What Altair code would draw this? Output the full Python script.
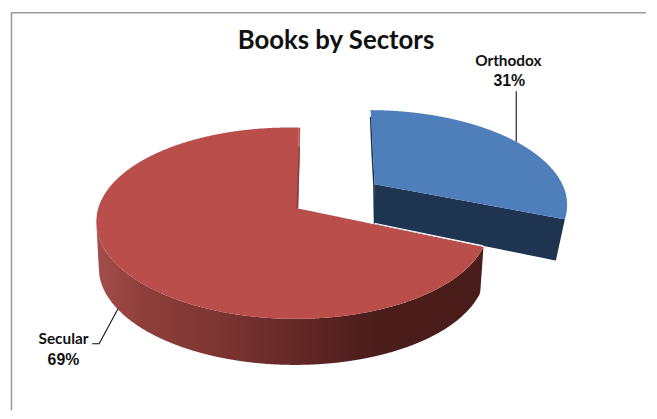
import numpy as np
import pandas as pd
import altair as alt

# --- chart values
sectors = ["Orthodox", "Secular"]
shares = [31, 69]
title_text = "Books by Sectors"

# --- colours
RED_TOP = "#BA4E4B"
BLUE_TOP = "#4E7FBB"
BLUE_WALL = "#1E3450"
RED_EDGE = "#8C3D3A"

# --- projection of the 3D pie: x0, y0, a, b, k, m, s, c
RED_FACE = dict(x0=298, y0=207.5, a=195.6, b=94.2, k=0.154, m=0.027, s=2.3, c=3.0)
RED_BASE = dict(x0=297.5, y0=254, a=192.7, b=94.2, k=0.154, m=0.027, s=2.3, c=3.0)
BLUE_FACE = dict(x0=375, y0=183, a=191.0, b=89.8, k=0.2, m=0.008, s=-4.8, c=0.0)
BLUE_BASE_APEX = (375, 223)
BLUE_BASE_CORNER = (558, 260)


def project(t_deg, x0, y0, a, b, k, m, s, c):
    t = np.radians(t_deg)
    X, Y = np.sin(t), np.cos(t)
    w = 1 + k * Y + m * X
    return x0 + (a * X + s * Y) / w, y0 - (b * Y - c * X) / w


split = 360 * shares[0] / sum(shares)
XS = alt.Scale(domain=[8, 649], nice=False, zero=False)
YS = alt.Scale(domain=[411, 8], nice=False, zero=False)


def band(xs, up, low):
    return pd.DataFrame({"x": xs, "y": up, "y2": low})


def area(df, color):
    return alt.Chart(df).mark_area(color=color, interpolate="linear", clip=True).encode(
        x=alt.X("x:Q", scale=XS, axis=None),
        y=alt.Y("y:Q", scale=YS, axis=None),
        y2="y2:Q",
    )


def line(xs, ys, color, width):
    df = pd.DataFrame({"x": xs, "y": ys, "o": range(len(xs))})
    return alt.Chart(df).mark_line(color=color, strokeWidth=width, interpolate="linear").encode(
        x=alt.X("x:Q", scale=XS, axis=None),
        y=alt.Y("y:Q", scale=YS, axis=None),
        order="o:O",
    )


# red face
tt = np.linspace(split, 360, 1200)
rx, ry = project(tt, **RED_FACE)
il = int(np.argmin(rx))
low_x, low_y = rx[:il + 1][::-1], ry[:il + 1][::-1]   # left -> corner, along the front
up_x, up_y = rx[il:], ry[il:]                          # left -> top, along the back
cx, cy = rx[0], ry[0]
ax_, ay_ = RED_FACE["x0"], RED_FACE["y0"]
gx = np.concatenate([np.linspace(rx[il], ax_, 300), np.linspace(ax_ + 0.01, cx, 300)])
gup = np.where(gx <= ax_, np.interp(gx, up_x, up_y), np.interp(gx, [ax_, cx], [ay_, cy]))
red_top = band(gx, gup, np.interp(gx, low_x, low_y))
sx = np.linspace(ax_, up_x[-1], 8)
red_sliver = band(sx, np.interp(sx, up_x, up_y), np.interp(sx, [ax_, up_x[-1]], [ay_, up_y[-1]]))

# red wall
bx, by = project(np.linspace(split, 275, 800), **RED_BASE)
ib = int(np.argmin(bx))
wall_x = np.concatenate([[rx[il]], bx[:ib + 1][::-1], [cx]])
wall_y = np.concatenate([[ry[il]], by[:ib + 1][::-1], [cy]])
gw = np.linspace(rx[il], cx, 500)
red_wall = band(gw, np.interp(gw, low_x, low_y), np.interp(gw, wall_x, wall_y))
wall_gradient = alt.LinearGradient(
    gradient="linear",
    stops=[
        alt.GradientStop(color="#A44E4A", offset=0.0),
        alt.GradientStop(color="#8F3F3B", offset=0.12),
        alt.GradientStop(color="#7C3532", offset=0.32),
        alt.GradientStop(color="#5E2524", offset=0.56),
        alt.GradientStop(color="#4A1D1B", offset=0.72),
        alt.GradientStop(color="#4A1D1B", offset=1.0),
    ],
    x1=0, x2=1, y1=0, y2=0,
)

# blue face
tb = np.linspace(0, split, 800)
ux, uy = project(tb, **BLUE_FACE)
ir = int(np.argmax(ux))
bax, bay = BLUE_FACE["x0"], BLUE_FACE["y0"]
bcx, bcy = ux[-1], uy[-1]
lower_x = np.concatenate([[ux[0], bax], ux[ir:][::-1]])
lower_y = np.concatenate([[uy[0], bay], uy[ir:][::-1]])
gb = np.linspace(ux[0], ux[ir], 500)
blue_top = band(gb, np.interp(gb, ux[:ir + 1], uy[:ir + 1]), np.interp(gb, lower_x, lower_y))

# blue wall
gbw = np.linspace(bax, bcx, 300)
bw_low = np.interp(gbw, [BLUE_BASE_APEX[0], BLUE_BASE_CORNER[0], bcx],
                   [BLUE_BASE_APEX[1], BLUE_BASE_CORNER[1], bcy])
blue_wall = band(gbw, np.interp(gbw, [bax, bcx], [bay, bcy]), bw_low)

# labels
labels = pd.DataFrame({
    "x": [510, 511, 61, 61],
    "y": [58.5, 79, 339, 360],
    "text": [sectors[0], f"{shares[0]}%", sectors[1], f"{shares[1]}%"],
    "font": ["Lato", "Liberation Sans", "Lato", "Liberation Sans"],
})


def label_layer(df, font, size):
    return alt.Chart(df).mark_text(
        font=font, fontSize=size, fontWeight="bold", color="#111111", align="center", baseline="middle"
    ).encode(
        x=alt.X("x:Q", scale=XS, axis=None),
        y=alt.Y("y:Q", scale=YS, axis=None),
        text="text:N",
    )


title_df = pd.DataFrame({"x": [336], "y": [38], "text": [title_text]})

chart = alt.layer(
    line([8.5, 8.5], [10, 411], "#9A9A9A", 1.5),
    line([8, 649], [10, 10], "#9A9A9A", 1.5),
    line([518, 518], [89, 140], "#111111", 1.1),
    line([90, 97, 117], [344, 344, 307], "#111111", 1.1),
    area(blue_wall, BLUE_WALL),
    line([371, 372.5, 374.3, 375], [115, 150, 183, 223], BLUE_WALL, 1.6),
    area(blue_top, BLUE_TOP),
    area(red_wall, wall_gradient),
    area(red_top, RED_TOP),
    area(red_sliver, RED_TOP),
    line([299, 297], [145, 207], RED_EDGE, 1.6),
    line([375, cx], [ay_ + (375 - ax_) * (cy - ay_) / (cx - ax_) - 1,
                      cy - 1], "#FFFFFF", 1.0),
    label_layer(labels[labels.font == "Lato"], "Lato", 15.5),
    label_layer(labels[labels.font != "Lato"], "Liberation Sans", 16),
    label_layer(title_df, "Lato", 26),
).properties(
    width=641, height=403, padding=0, background="white"
).configure_view(stroke=None)

chart.save("out.html", embed_options={"renderer": "svg", "actions": False})
